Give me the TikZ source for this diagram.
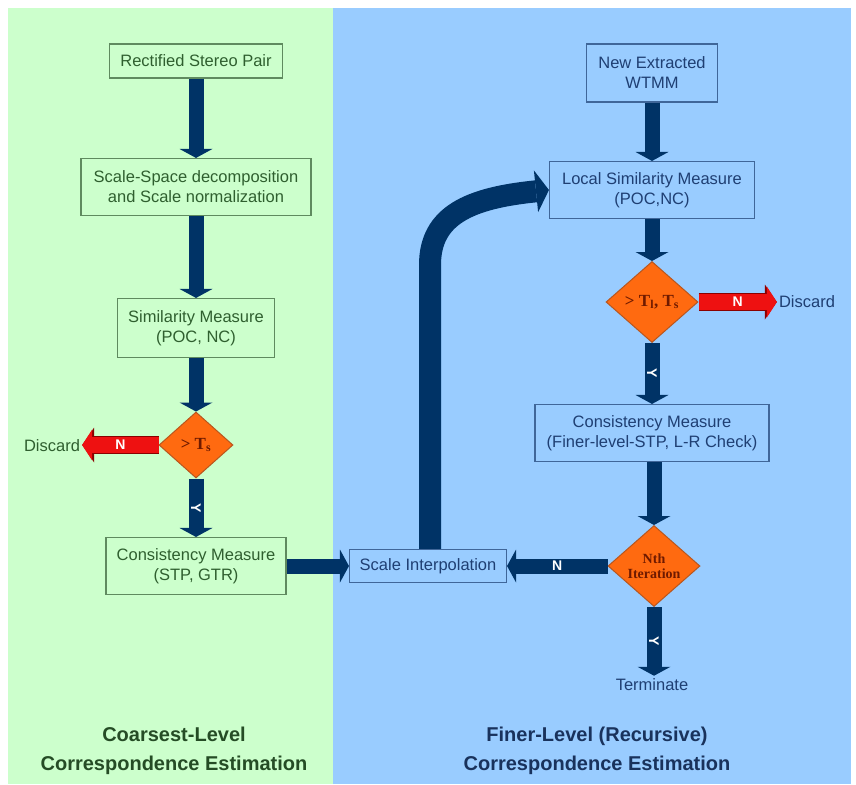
\documentclass[tikz,border=0pt]{standalone}
\usepackage{fontspec}
\setmainfont{Liberation Sans}
\newfontfamily\diamondFont{Liberation Serif}
\usepackage{tikz}
\usetikzlibrary{shapes.geometric, arrows.meta, positioning}
\definecolor{panelGreen}{HTML}{CCFFCC}
\definecolor{panelBlue}{HTML}{99CCFF}
\definecolor{arrowNavy}{HTML}{003366}
\definecolor{coarseText}{HTML}{2F5F2F}
\definecolor{coarseLine}{HTML}{5F8A5F}
\definecolor{fineText}{HTML}{1F3F73}
\definecolor{fineLine}{HTML}{3F6699}
\definecolor{decisionFill}{HTML}{FF6A10}
\definecolor{decisionLine}{HTML}{B8561E}
\definecolor{decisionText}{HTML}{6F1A00}
\definecolor{rejectFill}{HTML}{EE1111}
\definecolor{rejectLine}{HTML}{8A0000}
\newcommand{\boxFont}{\fontsize{16.5}{20}\selectfont}
\newcommand{\titleFont}{\bfseries\fontsize{20}{29}\selectfont}
\tikzstyle{coarseBox}=[draw=coarseLine, line width=1.1pt, text=coarseText, align=center, inner sep=0pt, font=\boxFont]
\tikzstyle{fineBox}=[draw=fineLine, line width=1.1pt, text=fineText, align=center, inner sep=0pt, font=\boxFont]
\tikzstyle{decision}=[diamond, draw=decisionLine, fill=decisionFill, line width=1pt, inner sep=0pt, text=decisionText, align=center, font=\diamondFont\bfseries\fontsize{17}{17}\selectfont]
\tikzstyle{flowArrow}=[draw=arrowNavy, line width=15pt, -{Triangle[width=33pt, length=9pt, line width=0pt]}]
\tikzstyle{loopArrow}=[draw=arrowNavy, line width=22pt, -{Triangle[width=42pt, length=13pt, line width=0pt]}]
\tikzstyle{rejectArrow}=[preaction={draw=rejectLine, line width=18pt, -{Triangle[width=35pt, length=12pt, line width=0pt]}}, draw=rejectFill, line width=16pt, -{Triangle[width=31pt, length=10pt, line width=0pt]}]
\tikzstyle{arrowLabel}=[text=white, inner sep=0pt, font=\bfseries\fontsize{14}{14}\selectfont]

\begin{document}
\begin{tikzpicture}[x=1pt, y=-1pt]
  \useasboundingbox (0,0) rectangle (856,784);
  \fill[panelGreen] (8,8) rectangle (333,784);
  \fill[panelBlue] (333,8) rectangle (851,784);

  \node[coarseBox, minimum width=173pt, minimum height=34pt] (rsp) at (196,61) {Rectified Stereo Pair};
  \node[coarseBox, minimum width=230pt, minimum height=57pt] (ssd) at (196,187) {Scale-Space decomposition\\and Scale normalization};
  \node[coarseBox, minimum width=157pt, minimum height=59pt] (sim) at (196,328) {Similarity Measure\\(POC, NC)};
  \node[decision, minimum width=74pt, minimum height=66pt] (dts) at (196,445) {> T\textsubscript{s}};
  \node[coarseBox, minimum width=180pt, minimum height=57pt] (csl) at (196,566) {Consistency Measure\\(STP, GTR)};
  \node[text=coarseText, font=\boxFont, inner sep=2pt] (dl) at (52,446) {Discard};

  \node[fineBox, minimum width=131pt, minimum height=58pt] (nxw) at (652,73) {New Extracted\\WTMM};
  \node[fineBox, minimum width=205pt, minimum height=57pt] (lsm) at (652,190) {Local Similarity Measure\\(POC,NC)};
  \node[decision, minimum width=92pt, minimum height=81pt] (dtl) at (652,302) {> T\textsubscript{l}, T\textsubscript{s}};
  \node[fineBox, minimum width=234pt, minimum height=57pt] (crf) at (652,433) {Consistency Measure\\(Finer-level-STP, L-R Check)};
  \node[decision, minimum width=92pt, minimum height=81pt, font=\diamondFont\bfseries\fontsize{14}{15}\selectfont] (dnth) at (654,566) {Nth\\Iteration};
  \node[fineBox, minimum width=157pt, minimum height=33pt] (sci) at (428,566) {Scale Interpolation};
  \node[text=fineText, font=\boxFont, inner sep=2pt] (dr) at (807,302) {Discard};
  \node[text=fineText, font=\boxFont, inner sep=3pt] (term) at (652,685) {Terminate};

  \node[text=coarseText!80!black, font=\titleFont, align=center] (ctitle) at (174,751) {Coarsest-Level\\Correspondence Estimation};
  \node[text=fineText!80!black, font=\titleFont, align=center] (ftitle) at (597,751) {Finer-Level (Recursive)\\Correspondence Estimation};

  \draw[flowArrow] (rsp.south) -- (rsp.south |- ssd.north);
  \draw[flowArrow] (ssd.south) -- (ssd.south |- sim.north);
  \draw[flowArrow] (sim.south) -- (sim.south |- dts.north);
  \draw[flowArrow] (dts.south) -- node[arrowLabel, rotate=-90] {Y} (dts.south |- csl.north);
  \draw[rejectArrow] (dts.west) -- node[arrowLabel] {N} (dts.west -| dl.east);
  \draw[flowArrow] (csl.east) -- (sci.west);

  \draw[flowArrow] (nxw.south) -- (nxw.south |- lsm.north);
  \draw[flowArrow] (lsm.south) -- (lsm.south |- dtl.north);
  \draw[rejectArrow] (dtl.east) -- node[arrowLabel] {N} (dtl.east -| dr.west);
  \draw[flowArrow] (dtl.south) -- node[arrowLabel, rotate=-90] {Y} (dtl.south |- crf.north);
  \draw[flowArrow] (dnth.north |- crf.south) -- (dnth.north);
  \draw[flowArrow] (dnth.west) -- node[arrowLabel] {N} (sci.east);
  \draw[flowArrow] (dnth.south) -- node[arrowLabel, rotate=-90] {Y} (dnth.south |- term.north);

  \coordinate (bend) at (430,265);
  \draw[loopArrow] (sci.north -| bend) -- (bend) .. controls (430,215) and (470,198) .. (lsm.west);
\end{tikzpicture}
\end{document}
